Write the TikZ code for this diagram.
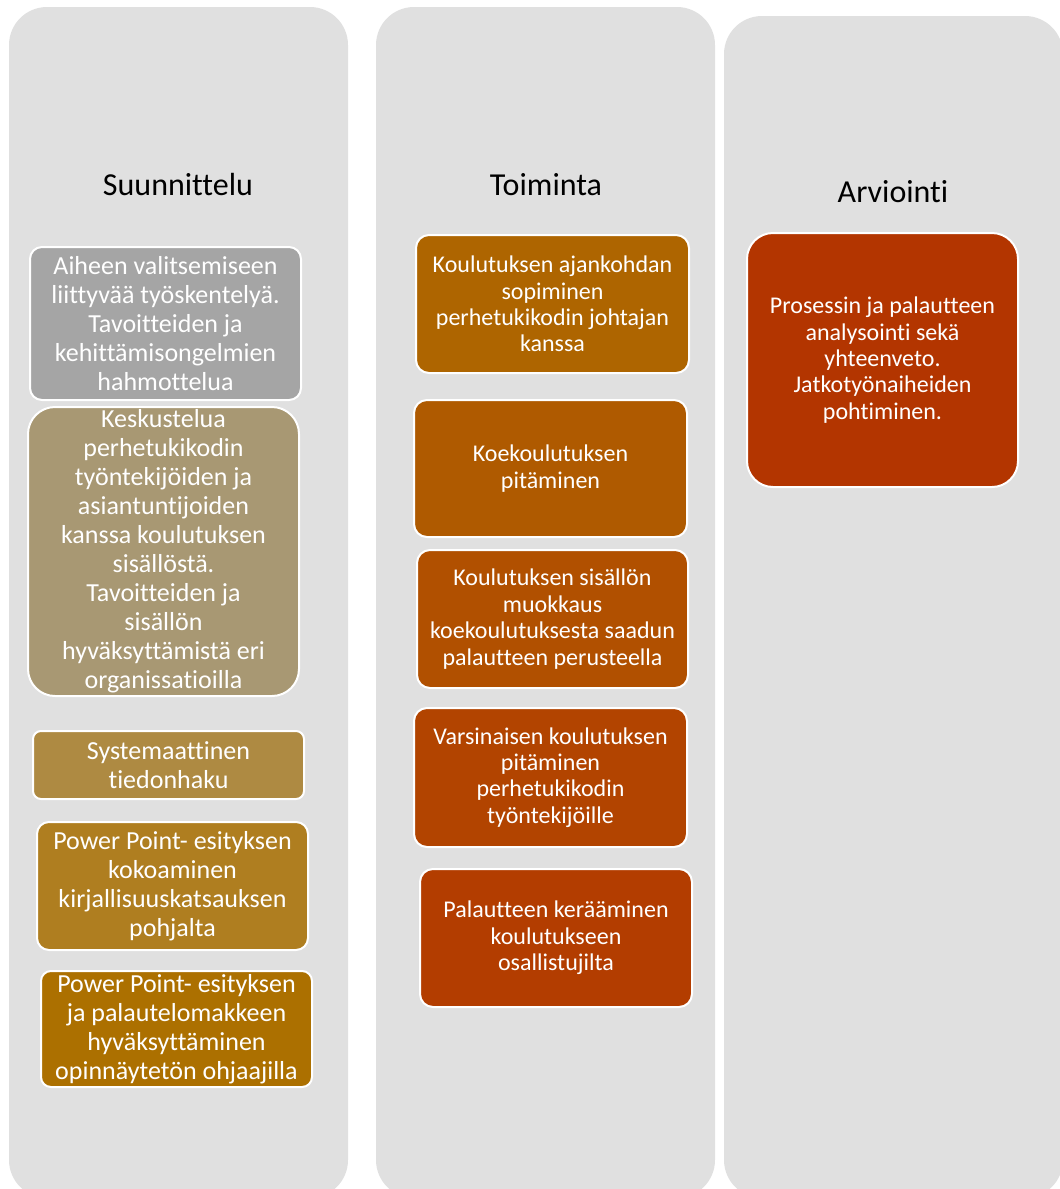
\documentclass[tikz,border=0pt]{standalone}
\usepackage{fontspec}
\setmainfont{Carlito}[Ligatures={NoCommon}]
\definecolor{colbg}{HTML}{E0E0E0}
\definecolor{cA}{HTML}{A5A5A5}
\definecolor{cB}{HTML}{A89873}
\definecolor{cC}{HTML}{AE8A42}
\definecolor{cD}{HTML}{AF7E20}
\definecolor{cE}{HTML}{AC7000}
\definecolor{cF}{HTML}{AE6500}
\definecolor{cG}{HTML}{AF5A00}
\definecolor{cH}{HTML}{B15000}
\definecolor{cI}{HTML}{B24400}
\definecolor{cJ}{HTML}{B33D00}
\definecolor{cK}{HTML}{B33500}
\begin{document}
\begin{tikzpicture}[x=1pt,y=-1pt,
  column/.style={fill=colbg, draw=none, rounded corners=38pt},
  coltitle/.style={anchor=base, text=black, font=\fontsize{32}{38}\selectfont},
  bx/.style={rectangle, draw=white, line width=2pt, text=white, align=center, inner sep=0pt, minimum width=271pt},
  lefttext/.style={font=\fontsize{26}{29}\selectfont},
  midtext/.style={font=\fontsize{24}{26.4}\selectfont}]
\useasboundingbox (0,0) rectangle (1060,1189);
\clip (0,0) rectangle (1060,1189);
% columns
\fill[column] (9,7) rectangle (348,1198);
\fill[column] (376,7) rectangle (715,1198);
\fill[column] (724,16) rectangle (1063,1198);
% titles
\node[coltitle] (t1) at (178,195) {Suunnittelu};
\node[coltitle] (t2) at (546,195) {Toiminta};
\node[coltitle] (t3) at (893,202) {Arviointi};
% left column
\node[bx, lefttext, fill=cA, rounded corners=12pt, minimum height=153pt] (b1) at (165.5,323.5)
  {Aiheen valitsemiseen\\liittyvää työskentelyä.\\Tavoitteiden ja\\kehittämisongelmien\\hahmottelua};
\node[bx, lefttext, fill=cB, rounded corners=27pt, minimum height=289pt] (b2) at (163.5,551.5)
  {Keskustelua\\perhetukikodin\\työntekijöiden ja\\asiantuntijoiden\\kanssa koulutuksen\\sisällöstä.\\Tavoitteiden ja\\sisällön\\hyväksyttämistä eri\\organissatioilla};
\node[bx, lefttext, fill=cC, rounded corners=8pt, minimum height=68pt] (b3) at (168.5,765)
  {Systemaattinen\\tiedonhaku};
\node[bx, lefttext, fill=cD, rounded corners=12pt, minimum height=128pt] (b4) at (172.5,886)
  {Power Point- esityksen\\kokoaminen\\kirjallisuuskatsauksen\\pohjalta};
\node[bx, lefttext, fill=cE, rounded corners=10pt, minimum height=116pt] (b5) at (176.5,1029)
  {Power Point- esityksen\\ja palautelomakkeen\\hyväksyttäminen\\opinnäytetön ohjaajilla};
% middle column
\node[bx, midtext, fill=cF, rounded corners=13pt, minimum width=273pt, minimum height=138pt] (m1) at (552.5,304)
  {Koulutuksen ajankohdan\\sopiminen\\perhetukikodin johtajan\\kanssa};
\node[bx, midtext, fill=cG, rounded corners=13pt, minimum width=273pt, minimum height=137pt] (m2) at (550.5,468.5)
  {Koekoulutuksen\\pitäminen};
\node[bx, midtext, fill=cH, rounded corners=13pt, minimum height=138pt] (m3) at (552.5,619)
  {Koulutuksen sisällön\\muokkaus\\koekoulutuksesta saadun\\palautteen perusteella};
\node[bx, midtext, fill=cI, rounded corners=13pt, minimum width=273pt, minimum height=139pt] (m4) at (550.5,777.5)
  {Varsinaisen koulutuksen\\pitäminen\\perhetukikodin\\työntekijöille};
\node[bx, midtext, fill=cJ, rounded corners=13pt, minimum width=272pt, minimum height=138pt] (m5) at (556,938)
  {Palautteen kerääminen\\koulutukseen\\osallistujilta};
% right column
\node[bx, midtext, fill=cK, rounded corners=26pt, minimum height=254pt] (r1) at (882.5,360)
  {Prosessin ja palautteen\\analysointi sekä\\yhteenveto.\\Jatkotyönaiheiden\\pohtiminen.};
\end{tikzpicture}
\end{document}
